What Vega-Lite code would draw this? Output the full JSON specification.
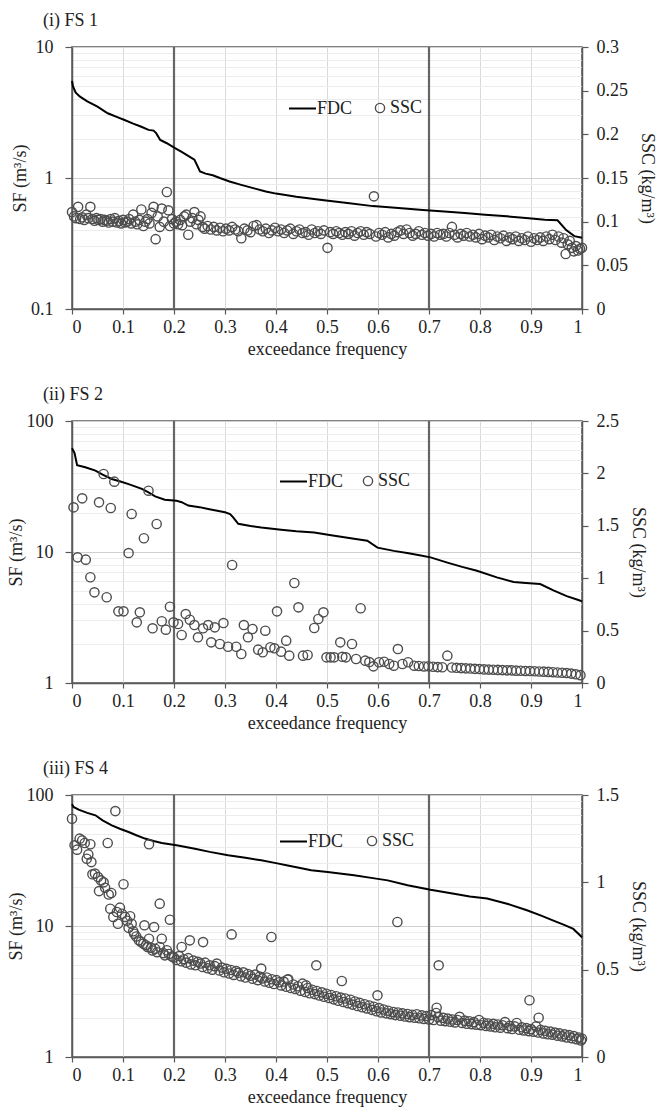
{
  "$schema": "https://vega.github.io/schema/vega-lite/v6.json",
  "background": "white",
  "padding": {"left": 6, "top": 11, "right": 0, "bottom": 0},
  "config": {
    "font": "Liberation Serif, Times New Roman, serif",
    "view": {"stroke": "#595959", "strokeWidth": 1.5},
    "axis": {
      "labelFont": "Liberation Serif, Times New Roman, serif", "titleFont": "Liberation Serif, Times New Roman, serif",
      "labelFontSize": 18, "titleFontSize": 18, "titleFontWeight": "normal",
      "labelColor": "#222", "titleColor": "#222",
      "domainColor": "#595959", "domainWidth": 1.5,
      "tickColor": "#595959", "tickWidth": 1.2
    },
    "legend": {"labelFont": "Liberation Serif, Times New Roman, serif", "labelFontSize": 18, "labelColor": "#222", "padding": 0}
  },
  "datasets": {
    "vlines": [{"f": 0.2}, {"f": 0.7}],
    "fdc1": [
      {"f":0,"v":5.5},{"f":0.002,"v":5.0},{"f":0.007,"v":4.5},{"f":0.015,"v":4.2},{"f":0.03,"v":3.85},{"f":0.05,"v":3.5},{"f":0.07,"v":3.12},{"f":0.09,"v":2.9},{"f":0.103,"v":2.77},{"f":0.12,"v":2.6},{"f":0.136,"v":2.46},{"f":0.15,"v":2.33},{"f":0.16,"v":2.3},{"f":0.165,"v":2.2},{"f":0.173,"v":1.95},{"f":0.185,"v":1.85},{"f":0.202,"v":1.69},{"f":0.215,"v":1.58},{"f":0.231,"v":1.45},{"f":0.24,"v":1.38},{"f":0.251,"v":1.12},{"f":0.262,"v":1.08},{"f":0.276,"v":1.05},{"f":0.29,"v":1.0},{"f":0.309,"v":0.94},{"f":0.33,"v":0.89},{"f":0.359,"v":0.83},{"f":0.38,"v":0.79},{"f":0.4,"v":0.76},{"f":0.44,"v":0.72},{"f":0.49,"v":0.68},{"f":0.54,"v":0.645},{"f":0.59,"v":0.61},{"f":0.64,"v":0.59},{"f":0.688,"v":0.57},{"f":0.73,"v":0.555},{"f":0.77,"v":0.54},{"f":0.81,"v":0.525},{"f":0.853,"v":0.51},{"f":0.89,"v":0.495},{"f":0.927,"v":0.48},{"f":0.952,"v":0.475},{"f":0.969,"v":0.40},{"f":0.985,"v":0.36},{"f":1.0,"v":0.35}
    ],
    "ssc1": [
      {"f":0.000,"v":0.111},{"f":0.004,"v":0.106},{"f":0.008,"v":0.104},{"f":0.012,"v":0.117},{"f":0.016,"v":0.103},{"f":0.020,"v":0.105},{"f":0.024,"v":0.102},{"f":0.028,"v":0.108},{"f":0.032,"v":0.104},{"f":0.036,"v":0.117},{"f":0.040,"v":0.103},{"f":0.044,"v":0.101},{"f":0.048,"v":0.104},{"f":0.052,"v":0.102},{"f":0.056,"v":0.103},{"f":0.060,"v":0.100},{"f":0.064,"v":0.102},{"f":0.068,"v":0.101},{"f":0.072,"v":0.099},{"f":0.076,"v":0.103},{"f":0.080,"v":0.100},{"f":0.084,"v":0.104},{"f":0.088,"v":0.099},{"f":0.092,"v":0.101},{"f":0.096,"v":0.098},{"f":0.100,"v":0.102},{"f":0.104,"v":0.099},{"f":0.108,"v":0.100},{"f":0.112,"v":0.103},{"f":0.116,"v":0.098},{"f":0.120,"v":0.108},{"f":0.124,"v":0.100},{"f":0.128,"v":0.097},{"f":0.132,"v":0.102},{"f":0.136,"v":0.114},{"f":0.140,"v":0.095},{"f":0.144,"v":0.100},{"f":0.148,"v":0.103},{"f":0.152,"v":0.098},{"f":0.156,"v":0.110},{"f":0.160,"v":0.117},{"f":0.164,"v":0.080},{"f":0.168,"v":0.106},{"f":0.172,"v":0.094},{"f":0.176,"v":0.115},{"f":0.180,"v":0.100},{"f":0.186,"v":0.134},{"f":0.189,"v":0.113},{"f":0.192,"v":0.095},{"f":0.196,"v":0.103},{"f":0.200,"v":0.098},{"f":0.204,"v":0.100},{"f":0.208,"v":0.097},{"f":0.212,"v":0.102},{"f":0.216,"v":0.096},{"f":0.220,"v":0.106},{"f":0.224,"v":0.108},{"f":0.228,"v":0.085},{"f":0.232,"v":0.100},{"f":0.236,"v":0.104},{"f":0.240,"v":0.111},{"f":0.244,"v":0.097},{"f":0.248,"v":0.102},{"f":0.252,"v":0.106},{"f":0.256,"v":0.094},{"f":0.260,"v":0.092},{"f":0.266,"v":0.095},{"f":0.272,"v":0.091},{"f":0.278,"v":0.094},{"f":0.284,"v":0.090},{"f":0.290,"v":0.093},{"f":0.296,"v":0.089},{"f":0.302,"v":0.092},{"f":0.308,"v":0.090},{"f":0.314,"v":0.094},{"f":0.320,"v":0.091},{"f":0.326,"v":0.089},{"f":0.332,"v":0.081},{"f":0.338,"v":0.092},{"f":0.344,"v":0.090},{"f":0.350,"v":0.088},{"f":0.356,"v":0.095},{"f":0.362,"v":0.096},{"f":0.368,"v":0.091},{"f":0.374,"v":0.089},{"f":0.380,"v":0.092},{"f":0.386,"v":0.087},{"f":0.392,"v":0.090},{"f":0.398,"v":0.093},{"f":0.404,"v":0.089},{"f":0.410,"v":0.091},{"f":0.416,"v":0.087},{"f":0.422,"v":0.090},{"f":0.428,"v":0.092},{"f":0.434,"v":0.086},{"f":0.440,"v":0.089},{"f":0.446,"v":0.091},{"f":0.452,"v":0.087},{"f":0.458,"v":0.088},{"f":0.464,"v":0.085},{"f":0.470,"v":0.091},{"f":0.476,"v":0.087},{"f":0.482,"v":0.089},{"f":0.488,"v":0.086},{"f":0.494,"v":0.090},{"f":0.501,"v":0.070},{"f":0.506,"v":0.088},{"f":0.512,"v":0.086},{"f":0.518,"v":0.089},{"f":0.524,"v":0.087},{"f":0.530,"v":0.085},{"f":0.536,"v":0.088},{"f":0.542,"v":0.086},{"f":0.548,"v":0.089},{"f":0.554,"v":0.084},{"f":0.560,"v":0.087},{"f":0.566,"v":0.089},{"f":0.572,"v":0.085},{"f":0.578,"v":0.088},{"f":0.584,"v":0.086},{"f":0.592,"v":0.129},{"f":0.596,"v":0.083},{"f":0.602,"v":0.087},{"f":0.608,"v":0.085},{"f":0.614,"v":0.088},{"f":0.620,"v":0.082},{"f":0.626,"v":0.086},{"f":0.632,"v":0.084},{"f":0.638,"v":0.088},{"f":0.644,"v":0.090},{"f":0.650,"v":0.086},{"f":0.656,"v":0.091},{"f":0.662,"v":0.087},{"f":0.668,"v":0.084},{"f":0.674,"v":0.086},{"f":0.680,"v":0.089},{"f":0.686,"v":0.085},{"f":0.692,"v":0.087},{"f":0.698,"v":0.084},{"f":0.704,"v":0.086},{"f":0.710,"v":0.083},{"f":0.716,"v":0.087},{"f":0.722,"v":0.085},{"f":0.728,"v":0.086},{"f":0.734,"v":0.083},{"f":0.740,"v":0.087},{"f":0.745,"v":0.094},{"f":0.750,"v":0.085},{"f":0.756,"v":0.082},{"f":0.762,"v":0.086},{"f":0.768,"v":0.084},{"f":0.774,"v":0.087},{"f":0.780,"v":0.083},{"f":0.786,"v":0.085},{"f":0.792,"v":0.082},{"f":0.798,"v":0.086},{"f":0.804,"v":0.080},{"f":0.810,"v":0.084},{"f":0.816,"v":0.082},{"f":0.822,"v":0.085},{"f":0.828,"v":0.079},{"f":0.834,"v":0.083},{"f":0.840,"v":0.081},{"f":0.846,"v":0.084},{"f":0.852,"v":0.078},{"f":0.858,"v":0.082},{"f":0.864,"v":0.080},{"f":0.870,"v":0.083},{"f":0.876,"v":0.078},{"f":0.882,"v":0.081},{"f":0.888,"v":0.079},{"f":0.894,"v":0.083},{"f":0.900,"v":0.077},{"f":0.906,"v":0.081},{"f":0.912,"v":0.079},{"f":0.918,"v":0.082},{"f":0.924,"v":0.078},{"f":0.930,"v":0.083},{"f":0.936,"v":0.080},{"f":0.942,"v":0.085},{"f":0.948,"v":0.079},{"f":0.954,"v":0.083},{"f":0.960,"v":0.076},{"f":0.964,"v":0.081},{"f":0.968,"v":0.063},{"f":0.972,"v":0.074},{"f":0.976,"v":0.078},{"f":0.980,"v":0.070},{"f":0.984,"v":0.066},{"f":0.988,"v":0.072},{"f":0.992,"v":0.067},{"f":0.996,"v":0.069},{"f":1.000,"v":0.070}
    ],
    "fdc2": [
      {"f":0,"v":62},{"f":0.005,"v":57},{"f":0.01,"v":46},{"f":0.026,"v":44.3},{"f":0.046,"v":41.8},{"f":0.06,"v":39},{"f":0.078,"v":36.1},{"f":0.095,"v":34.5},{"f":0.111,"v":33},{"f":0.137,"v":30.3},{"f":0.15,"v":28.5},{"f":0.163,"v":26.6},{"f":0.182,"v":25.1},{"f":0.205,"v":24.6},{"f":0.215,"v":24},{"f":0.228,"v":22.6},{"f":0.25,"v":22},{"f":0.267,"v":21.3},{"f":0.3,"v":20.1},{"f":0.31,"v":19.5},{"f":0.316,"v":18.4},{"f":0.326,"v":16.4},{"f":0.35,"v":15.8},{"f":0.371,"v":15.4},{"f":0.41,"v":14.8},{"f":0.44,"v":14.4},{"f":0.475,"v":14.1},{"f":0.505,"v":13.5},{"f":0.553,"v":12.6},{"f":0.579,"v":12.2},{"f":0.599,"v":10.8},{"f":0.631,"v":10.2},{"f":0.66,"v":9.8},{"f":0.684,"v":9.4},{"f":0.703,"v":9.1},{"f":0.736,"v":8.3},{"f":0.765,"v":7.7},{"f":0.794,"v":7.2},{"f":0.833,"v":6.4},{"f":0.866,"v":5.9},{"f":0.89,"v":5.8},{"f":0.918,"v":5.7},{"f":0.944,"v":5.1},{"f":0.97,"v":4.6},{"f":0.993,"v":4.3},{"f":1.0,"v":4.2}
    ],
    "ssc2": [
      {"f":0.003,"v":1.676},{"f":0.011,"v":1.199},{"f":0.02,"v":1.762},{"f":0.027,"v":1.177},{"f":0.036,"v":1.009},{"f":0.044,"v":0.865},{"f":0.053,"v":1.724},{"f":0.062,"v":1.994},{"f":0.068,"v":0.818},{"f":0.076,"v":1.67},{"f":0.083,"v":1.921},{"f":0.091,"v":0.684},{"f":0.101,"v":0.684},{"f":0.111,"v":1.24},{"f":0.117,"v":1.613},{"f":0.127,"v":0.579},{"f":0.133,"v":0.674},{"f":0.141,"v":1.381},{"f":0.15,"v":1.835},{"f":0.158,"v":0.522},{"f":0.166,"v":1.517},{"f":0.176,"v":0.589},{"f":0.184,"v":0.509},{"f":0.192,"v":0.728},{"f":0.199,"v":0.579},{"f":0.208,"v":0.563},{"f":0.215,"v":0.458},{"f":0.223,"v":0.658},{"f":0.231,"v":0.604},{"f":0.24,"v":0.553},{"f":0.247,"v":0.436},{"f":0.257,"v":0.522},{"f":0.267,"v":0.553},{"f":0.273,"v":0.388},{"f":0.28,"v":0.531},{"f":0.29,"v":0.372},{"f":0.297,"v":0.572},{"f":0.306,"v":0.346},{"f":0.314,"v":1.126},{"f":0.322,"v":0.346},{"f":0.332,"v":0.277},{"f":0.337,"v":0.553},{"f":0.345,"v":0.436},{"f":0.354,"v":0.515},{"f":0.365,"v":0.318},{"f":0.374,"v":0.293},{"f":0.379,"v":0.499},{"f":0.389,"v":0.341},{"f":0.397,"v":0.331},{"f":0.402,"v":0.684},{"f":0.41,"v":0.299},{"f":0.42,"v":0.404},{"f":0.426,"v":0.261},{"f":0.436,"v":0.954},{"f":0.444,"v":0.722},{"f":0.453,"v":0.261},{"f":0.462,"v":0.267},{"f":0.475,"v":0.525},{"f":0.483,"v":0.611},{"f":0.493,"v":0.674},{"f":0.499,"v":0.245},{"f":0.507,"v":0.245},{"f":0.514,"v":0.245},{"f":0.526,"v":0.388},{"f":0.53,"v":0.25},{"f":0.537,"v":0.245},{"f":0.549,"v":0.372},{"f":0.557,"v":0.229},{"f":0.566,"v":0.713},{"f":0.575,"v":0.213},{"f":0.583,"v":0.2},{"f":0.591,"v":0.159},{"f":0.602,"v":0.198},{"f":0.612,"v":0.203},{"f":0.622,"v":0.181},{"f":0.631,"v":0.165},{"f":0.639,"v":0.324},{"f":0.648,"v":0.181},{"f":0.659,"v":0.198},{"f":0.671,"v":0.165},{"f":0.68,"v":0.162},{"f":0.69,"v":0.158},{"f":0.699,"v":0.16},{"f":0.708,"v":0.155},{"f":0.717,"v":0.152},{"f":0.726,"v":0.15},{"f":0.736,"v":0.261},{"f":0.745,"v":0.148},{"f":0.754,"v":0.145},{"f":0.763,"v":0.142},{"f":0.772,"v":0.14},{"f":0.781,"v":0.138},{"f":0.79,"v":0.135},{"f":0.799,"v":0.133},{"f":0.808,"v":0.13},{"f":0.817,"v":0.128},{"f":0.826,"v":0.127},{"f":0.835,"v":0.125},{"f":0.844,"v":0.123},{"f":0.853,"v":0.121},{"f":0.862,"v":0.12},{"f":0.871,"v":0.118},{"f":0.88,"v":0.117},{"f":0.889,"v":0.115},{"f":0.898,"v":0.114},{"f":0.907,"v":0.112},{"f":0.916,"v":0.11},{"f":0.925,"v":0.108},{"f":0.934,"v":0.106},{"f":0.943,"v":0.103},{"f":0.952,"v":0.1},{"f":0.961,"v":0.098},{"f":0.97,"v":0.095},{"f":0.979,"v":0.09},{"f":0.988,"v":0.083},{"f":0.997,"v":0.075}
    ],
    "fdc3": [
      {"f":0,"v":85},{"f":0.003,"v":81},{"f":0.013,"v":77.3},{"f":0.03,"v":73},{"f":0.046,"v":70},{"f":0.06,"v":64},{"f":0.078,"v":58.7},{"f":0.095,"v":55},{"f":0.111,"v":52.2},{"f":0.125,"v":49.5},{"f":0.143,"v":46.5},{"f":0.16,"v":44.5},{"f":0.176,"v":43},{"f":0.205,"v":41.3},{"f":0.241,"v":38.9},{"f":0.27,"v":36.8},{"f":0.306,"v":34.7},{"f":0.34,"v":33.2},{"f":0.371,"v":31.7},{"f":0.4,"v":30.2},{"f":0.423,"v":29},{"f":0.445,"v":27.8},{"f":0.469,"v":26.6},{"f":0.501,"v":25.8},{"f":0.553,"v":24.4},{"f":0.59,"v":23.2},{"f":0.619,"v":22.3},{"f":0.658,"v":20.5},{"f":0.703,"v":18.9},{"f":0.749,"v":17.6},{"f":0.78,"v":16.8},{"f":0.814,"v":16.2},{"f":0.853,"v":14.8},{"f":0.892,"v":13.2},{"f":0.92,"v":12.0},{"f":0.944,"v":11.0},{"f":0.965,"v":10.2},{"f":0.983,"v":9.5},{"f":1.0,"v":8.2}
    ],
    "ssc3": [
      {"f":0.000,"v":1.364},{"f":0.005,"v":1.212},{"f":0.010,"v":1.187},{"f":0.015,"v":1.25},{"f":0.020,"v":1.24},{"f":0.025,"v":1.225},{"f":0.029,"v":1.135},{"f":0.032,"v":1.16},{"f":0.036,"v":1.218},{"f":0.038,"v":1.116},{"f":0.040,"v":1.046},{"f":0.045,"v":1.05},{"f":0.051,"v":1.03},{"f":0.053,"v":0.95},{"f":0.057,"v":1.011},{"f":0.062,"v":1.0},{"f":0.065,"v":0.969},{"f":0.070,"v":1.225},{"f":0.072,"v":0.93},{"f":0.075,"v":0.849},{"f":0.077,"v":0.939},{"f":0.081,"v":0.802},{"f":0.085,"v":1.408},{"f":0.088,"v":0.83},{"f":0.090,"v":0.763},{"f":0.094,"v":0.855},{"f":0.098,"v":0.82},{"f":0.101,"v":0.989},{"f":0.104,"v":0.802},{"f":0.108,"v":0.78},{"f":0.111,"v":0.74},{"f":0.114,"v":0.806},{"f":0.117,"v":0.763},{"f":0.120,"v":0.72},{"f":0.122,"v":0.706},{"f":0.126,"v":0.69},{"f":0.131,"v":0.668},{"f":0.135,"v":0.66},{"f":0.140,"v":0.649},{"f":0.142,"v":0.754},{"f":0.145,"v":0.64},{"f":0.148,"v":0.63},{"f":0.151,"v":0.677},{"f":0.151,"v":1.218},{"f":0.155,"v":0.625},{"f":0.158,"v":0.61},{"f":0.161,"v":0.744},{"f":0.163,"v":0.62},{"f":0.167,"v":0.6},{"f":0.172,"v":0.63},{"f":0.172,"v":0.878},{"f":0.176,"v":0.677},{"f":0.179,"v":0.595},{"f":0.182,"v":0.582},{"f":0.186,"v":0.611},{"f":0.190,"v":0.59},{"f":0.192,"v":0.786},{"f":0.196,"v":0.575},{"f":0.215,"v":0.63},{"f":0.231,"v":0.668},{"f":0.257,"v":0.658},{"f":0.313,"v":0.702},{"f":0.371,"v":0.506},{"f":0.391,"v":0.687},{"f":0.423,"v":0.443},{"f":0.459,"v":0.41},{"f":0.479,"v":0.525},
      {"f":0.200,"v":0.570},{"f":0.205,"v":0.555},{"f":0.210,"v":0.578},{"f":0.214,"v":0.548},{"f":0.219,"v":0.560},{"f":0.224,"v":0.540},{"f":0.228,"v":0.566},{"f":0.233,"v":0.530},{"f":0.238,"v":0.552},{"f":0.242,"v":0.525},{"f":0.247,"v":0.545},{"f":0.252,"v":0.535},{"f":0.256,"v":0.515},{"f":0.261,"v":0.540},{"f":0.266,"v":0.508},{"f":0.270,"v":0.525},{"f":0.275,"v":0.500},{"f":0.280,"v":0.520},{"f":0.284,"v":0.535},{"f":0.289,"v":0.495},{"f":0.294,"v":0.512},{"f":0.298,"v":0.485},{"f":0.303,"v":0.505},{"f":0.308,"v":0.478},{"f":0.312,"v":0.498},{"f":0.317,"v":0.470},{"f":0.322,"v":0.492},{"f":0.326,"v":0.482},{"f":0.331,"v":0.462},{"f":0.336,"v":0.485},{"f":0.340,"v":0.455},{"f":0.345,"v":0.475},{"f":0.350,"v":0.465},{"f":0.354,"v":0.448},{"f":0.359,"v":0.472},{"f":0.364,"v":0.440},{"f":0.368,"v":0.460},{"f":0.373,"v":0.450},{"f":0.378,"v":0.432},{"f":0.382,"v":0.455},{"f":0.387,"v":0.425},{"f":0.392,"v":0.445},{"f":0.396,"v":0.418},{"f":0.401,"v":0.440},{"f":0.406,"v":0.428},{"f":0.410,"v":0.410},{"f":0.415,"v":0.432},{"f":0.420,"v":0.402},{"f":0.424,"v":0.445},{"f":0.429,"v":0.395},{"f":0.434,"v":0.415},{"f":0.438,"v":0.390},{"f":0.443,"v":0.405},{"f":0.448,"v":0.380},{"f":0.452,"v":0.420},{"f":0.457,"v":0.372},{"f":0.462,"v":0.395},{"f":0.466,"v":0.365},{"f":0.471,"v":0.385},{"f":0.476,"v":0.360},{"f":0.480,"v":0.378},{"f":0.485,"v":0.352},{"f":0.490,"v":0.370},{"f":0.494,"v":0.345},{"f":0.499,"v":0.362},{"f":0.504,"v":0.338},{"f":0.508,"v":0.355},{"f":0.513,"v":0.330},{"f":0.518,"v":0.348},{"f":0.522,"v":0.322},{"f":0.527,"v":0.340},{"f":0.529,"v":0.435},{"f":0.532,"v":0.315},{"f":0.536,"v":0.335},{"f":0.541,"v":0.308},{"f":0.546,"v":0.328},{"f":0.550,"v":0.300},{"f":0.555,"v":0.318},{"f":0.560,"v":0.292},{"f":0.564,"v":0.310},{"f":0.569,"v":0.285},{"f":0.574,"v":0.302},{"f":0.578,"v":0.278},{"f":0.583,"v":0.295},{"f":0.588,"v":0.270},{"f":0.592,"v":0.288},{"f":0.597,"v":0.262},{"f":0.599,"v":0.353},{"f":0.602,"v":0.280},{"f":0.606,"v":0.255},{"f":0.611,"v":0.272},{"f":0.616,"v":0.250},{"f":0.620,"v":0.265},{"f":0.625,"v":0.245},{"f":0.630,"v":0.258},{"f":0.634,"v":0.240},{"f":0.638,"v":0.773},{"f":0.639,"v":0.255},{"f":0.644,"v":0.236},{"f":0.648,"v":0.250},{"f":0.653,"v":0.232},{"f":0.658,"v":0.246},{"f":0.662,"v":0.228},{"f":0.667,"v":0.242},{"f":0.672,"v":0.225},{"f":0.676,"v":0.245},{"f":0.681,"v":0.222},{"f":0.686,"v":0.238},{"f":0.690,"v":0.218},{"f":0.695,"v":0.235},{"f":0.700,"v":0.215},{"f":0.704,"v":0.240},{"f":0.709,"v":0.212},{"f":0.714,"v":0.252},{"f":0.715,"v":0.282},{"f":0.718,"v":0.228},{"f":0.719,"v":0.525},{"f":0.723,"v":0.208},{"f":0.728,"v":0.224},{"f":0.732,"v":0.205},{"f":0.737,"v":0.220},{"f":0.742,"v":0.202},{"f":0.746,"v":0.215},{"f":0.751,"v":0.198},{"f":0.756,"v":0.212},{"f":0.760,"v":0.230},{"f":0.765,"v":0.195},{"f":0.770,"v":0.208},{"f":0.774,"v":0.190},{"f":0.779,"v":0.205},{"f":0.784,"v":0.188},{"f":0.788,"v":0.200},{"f":0.793,"v":0.185},{"f":0.798,"v":0.212},{"f":0.802,"v":0.182},{"f":0.807,"v":0.196},{"f":0.812,"v":0.178},{"f":0.816,"v":0.192},{"f":0.821,"v":0.175},{"f":0.826,"v":0.190},{"f":0.830,"v":0.170},{"f":0.835,"v":0.186},{"f":0.840,"v":0.168},{"f":0.844,"v":0.182},{"f":0.849,"v":0.200},{"f":0.854,"v":0.165},{"f":0.858,"v":0.178},{"f":0.863,"v":0.160},{"f":0.868,"v":0.175},{"f":0.872,"v":0.195},{"f":0.877,"v":0.156},{"f":0.882,"v":0.170},{"f":0.886,"v":0.152},{"f":0.891,"v":0.165},{"f":0.896,"v":0.148},{"f":0.897,"v":0.325},{"f":0.900,"v":0.160},{"f":0.905,"v":0.145},{"f":0.910,"v":0.175},{"f":0.914,"v":0.140},{"f":0.915,"v":0.225},{"f":0.919,"v":0.155},{"f":0.924,"v":0.135},{"f":0.928,"v":0.150},{"f":0.933,"v":0.130},{"f":0.938,"v":0.145},{"f":0.942,"v":0.128},{"f":0.947,"v":0.140},{"f":0.952,"v":0.122},{"f":0.956,"v":0.135},{"f":0.961,"v":0.118},{"f":0.966,"v":0.130},{"f":0.970,"v":0.112},{"f":0.975,"v":0.125},{"f":0.980,"v":0.108},{"f":0.984,"v":0.120},{"f":0.989,"v":0.102},{"f":0.994,"v":0.112},{"f":0.998,"v":0.095},{"f":1.000,"v":0.105}
    ]
  },
  "vconcat": [
    {
      "width": 510, "height": 262,
      "title": {"text": "(i) FS 1", "anchor": "start", "frame": "group", "dx": -29, "offset": 8, "fontSize": 18, "fontWeight": "normal", "font": "Liberation Serif, Times New Roman, serif", "color": "#222"},
      "layer": [
        {
          "data": {"name": "vlines"},
          "mark": {"type": "rule", "color": "#666666", "strokeWidth": 2.2},
          "encoding": {"x": {"field": "f", "type": "quantitative", "scale": {"domain": [0, 1]},
            "axis": {"values": [0,0.1,0.2,0.3,0.4,0.5,0.6,0.7,0.8,0.9,1], "format": "~g", "grid": true, "gridColor": "#d9d9d9", "tickSize": 5, "labelPadding": 4, "title": "exceedance frequency", "titlePadding": 4}}}
        },
        {
          "data": {"name": "fdc1"},
          "mark": {"type": "line", "strokeWidth": 2},
          "encoding": {
            "x": {"field": "f", "type": "quantitative"},
            "y": {"field": "v", "type": "quantitative", "scale": {"type": "log", "domain": [0.1, 10]},
              "axis": {"values": [0.1,0.2,0.3,0.4,0.5,0.6,0.7,0.8,0.9,1,2,3,4,5,6,7,8,9,10], "format": "~g", "labelOverlap": false,
                "labelExpr": "indexof([0.1,1,10], datum.value) >= 0 ? datum.label : ''",
                "tickOpacity": {"condition": {"test": "indexof([0.1,1,10], datum.value) >= 0", "value": 1}, "value": 0},
                "gridColor": {"condition": {"test": "indexof([0.1,1,10], datum.value) >= 0", "value": "#d0d0d0"}, "value": "#ececec"},
                "grid": true, "tickSize": 7, "labelPadding": 12, "title": "SF (m³/s)", "titlePadding": 1}},
            "color": {"datum": "FDC", "scale": {"range": ["#000000"]},
              "legend": {"orient": "none", "legendX": 216, "legendY": 47, "title": null, "symbolSize": 729, "symbolStrokeWidth": 2, "labelOffset": 0}}
          }
        },
        {
          "data": {"name": "ssc1"},
          "mark": {"type": "point", "filled": false, "color": "#4d4d4d", "size": 85, "strokeWidth": 1.4, "opacity": 1},
          "encoding": {
            "x": {"field": "f", "type": "quantitative"},
            "y": {"field": "v", "type": "quantitative", "scale": {"domain": [0, 0.3]},
              "axis": {"orient": "right", "values": [0,0.05,0.1,0.15,0.2,0.25,0.3], "format": "~g", "grid": false, "tickSize": 6, "labelPadding": 8, "title": "SSC (kg/m³)", "titlePadding": 10}},
            "shape": {"datum": "SSC", "scale": {"range": ["circle"]},
              "legend": {"orient": "none", "legendX": 299, "legendY": 52, "title": null, "symbolSize": 85, "symbolStrokeColor": "#4d4d4d", "symbolStrokeWidth": 1.4, "labelOffset": 1}}
          }
        }
      ],
      "resolve": {"scale": {"y": "independent"}}
    },
    {
      "width": 510, "height": 262,
      "title": {"text": "(ii) FS 2", "anchor": "start", "frame": "group", "dx": -29, "offset": 8, "fontSize": 18, "fontWeight": "normal", "font": "Liberation Serif, Times New Roman, serif", "color": "#222"},
      "layer": [
        {
          "data": {"name": "vlines"},
          "mark": {"type": "rule", "color": "#666666", "strokeWidth": 2.2},
          "encoding": {"x": {"field": "f", "type": "quantitative", "scale": {"domain": [0, 1]},
            "axis": {"values": [0,0.1,0.2,0.3,0.4,0.5,0.6,0.7,0.8,0.9,1], "format": "~g", "grid": true, "gridColor": "#d9d9d9", "tickSize": 5, "labelPadding": 4, "title": "exceedance frequency", "titlePadding": 4}}}
        },
        {
          "data": {"name": "fdc2"},
          "mark": {"type": "line", "strokeWidth": 2},
          "encoding": {
            "x": {"field": "f", "type": "quantitative"},
            "y": {"field": "v", "type": "quantitative", "scale": {"type": "log", "domain": [1, 100]},
              "axis": {"values": [1,2,3,4,5,6,7,8,9,10,20,30,40,50,60,70,80,90,100], "format": "~g", "labelOverlap": false,
                "labelExpr": "indexof([1,10,100], datum.value) >= 0 ? datum.label : ''",
                "tickOpacity": {"condition": {"test": "indexof([1,10,100], datum.value) >= 0", "value": 1}, "value": 0},
                "gridColor": {"condition": {"test": "indexof([1,10,100], datum.value) >= 0", "value": "#d0d0d0"}, "value": "#ececec"},
                "grid": true, "tickSize": 7, "labelPadding": 12, "title": "SF (m³/s)", "titlePadding": 1}},
            "color": {"datum": "FDC", "scale": {"range": ["#000000"]},
              "legend": {"orient": "none", "legendX": 207, "legendY": 46, "title": null, "symbolSize": 729, "symbolStrokeWidth": 2, "labelOffset": 0}}
          }
        },
        {
          "data": {"name": "ssc2"},
          "mark": {"type": "point", "filled": false, "color": "#4d4d4d", "size": 85, "strokeWidth": 1.4, "opacity": 1},
          "encoding": {
            "x": {"field": "f", "type": "quantitative"},
            "y": {"field": "v", "type": "quantitative", "scale": {"domain": [0, 2.5]},
              "axis": {"orient": "right", "values": [0,0.5,1,1.5,2,2.5], "format": "~g", "grid": false, "tickSize": 6, "labelPadding": 8, "title": "SSC (kg/m³)", "titlePadding": 10}},
            "shape": {"datum": "SSC", "scale": {"range": ["circle"]},
              "legend": {"orient": "none", "legendX": 287, "legendY": 51, "title": null, "symbolSize": 85, "symbolStrokeColor": "#4d4d4d", "symbolStrokeWidth": 1.4, "labelOffset": 1}}
          }
        }
      ],
      "resolve": {"scale": {"y": "independent"}}
    },
    {
      "width": 510, "height": 262,
      "title": {"text": "(iii) FS 4", "anchor": "start", "frame": "group", "dx": -29, "offset": 8, "fontSize": 18, "fontWeight": "normal", "font": "Liberation Serif, Times New Roman, serif", "color": "#222"},
      "layer": [
        {
          "data": {"name": "vlines"},
          "mark": {"type": "rule", "color": "#666666", "strokeWidth": 2.2},
          "encoding": {"x": {"field": "f", "type": "quantitative", "scale": {"domain": [0, 1]},
            "axis": {"values": [0,0.1,0.2,0.3,0.4,0.5,0.6,0.7,0.8,0.9,1], "format": "~g", "grid": true, "gridColor": "#d9d9d9", "tickSize": 5, "labelPadding": 4, "title": "exceedance frequency", "titlePadding": 4}}}
        },
        {
          "data": {"name": "fdc3"},
          "mark": {"type": "line", "strokeWidth": 2},
          "encoding": {
            "x": {"field": "f", "type": "quantitative"},
            "y": {"field": "v", "type": "quantitative", "scale": {"type": "log", "domain": [1, 100]},
              "axis": {"values": [1,2,3,4,5,6,7,8,9,10,20,30,40,50,60,70,80,90,100], "format": "~g", "labelOverlap": false,
                "labelExpr": "indexof([1,10,100], datum.value) >= 0 ? datum.label : ''",
                "tickOpacity": {"condition": {"test": "indexof([1,10,100], datum.value) >= 0", "value": 1}, "value": 0},
                "gridColor": {"condition": {"test": "indexof([1,10,100], datum.value) >= 0", "value": "#d0d0d0"}, "value": "#ececec"},
                "grid": true, "tickSize": 7, "labelPadding": 12, "title": "SF (m³/s)", "titlePadding": 1}},
            "color": {"datum": "FDC", "scale": {"range": ["#000000"]},
              "legend": {"orient": "none", "legendX": 207, "legendY": 32, "title": null, "symbolSize": 729, "symbolStrokeWidth": 2, "labelOffset": 0}}
          }
        },
        {
          "data": {"name": "ssc3"},
          "mark": {"type": "point", "filled": false, "color": "#4d4d4d", "size": 85, "strokeWidth": 1.4, "opacity": 1},
          "encoding": {
            "x": {"field": "f", "type": "quantitative"},
            "y": {"field": "v", "type": "quantitative", "scale": {"domain": [0, 1.5]},
              "axis": {"orient": "right", "values": [0,0.5,1,1.5], "format": "~g", "grid": false, "tickSize": 6, "labelPadding": 8, "title": "SSC (kg/m³)", "titlePadding": 10}},
            "shape": {"datum": "SSC", "scale": {"range": ["circle"]},
              "legend": {"orient": "none", "legendX": 291, "legendY": 37, "title": null, "symbolSize": 85, "symbolStrokeColor": "#4d4d4d", "symbolStrokeWidth": 1.4, "labelOffset": 1}}
          }
        }
      ],
      "resolve": {"scale": {"y": "independent"}}
    }
  ],
  "spacing": 26,
  "resolve": {"scale": {"x": "independent", "y": "independent", "color": "independent", "shape": "independent"}, "legend": {"color": "independent", "shape": "independent"}}
}
